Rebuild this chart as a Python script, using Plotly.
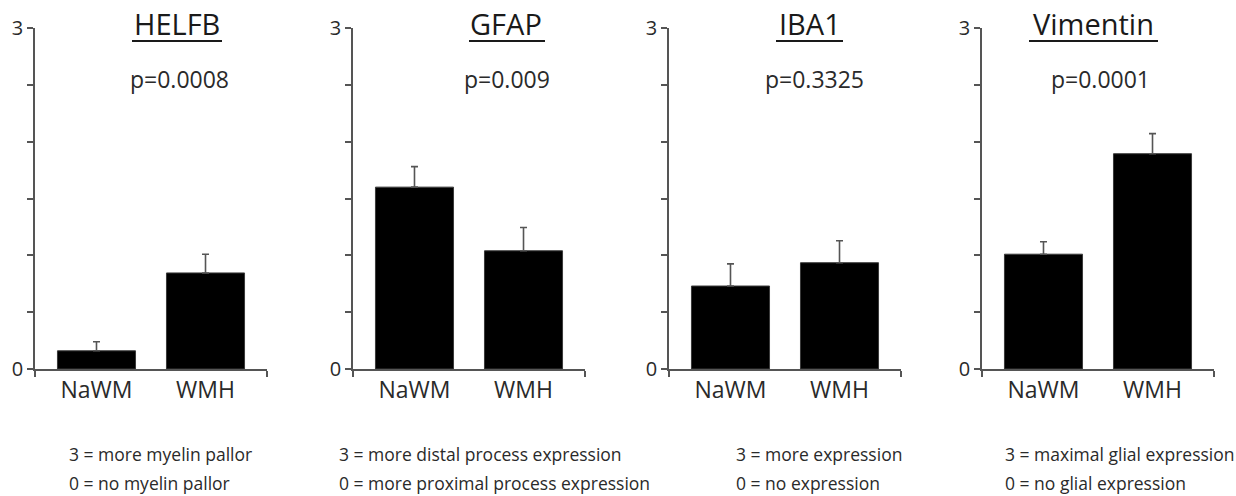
import plotly.graph_objects as go

# ---------------- data ----------------
categories = ["NaWM", "WMH"]
markers = ["HELFB", "GFAP", "IBA1", "Vimentin"]
p_values = ["p=0.0008", "p=0.009", "p=0.3325", "p=0.0001"]

helfb_mean = [0.16, 0.845]
helfb_err = [0.08, 0.165]
gfap_mean = [1.60, 1.04]
gfap_err = [0.18, 0.205]
iba1_mean = [0.73, 0.935]
iba1_err = [0.195, 0.193]
vim_mean = [1.01, 1.894]
vim_err = [0.11, 0.177]

y_tickvals = [0, 0.5, 1, 1.5, 2, 2.5, 3]
y_ticktext = ["0", "", "", "", "", "", "3"]

legend_high = ["3 = more myelin pallor", "3 = more distal process expression",
               "3 = more expression", "3 = maximal glial expression"]
legend_low = ["0 = no myelin pallor", "0 = more proximal process expression",
              "0 = no expression", "0 = no glial expression"]

means = [helfb_mean, gfap_mean, iba1_mean, vim_mean]
errs = [helfb_err, gfap_err, iba1_err, vim_err]

# ---------------- layout geometry ----------------
W, H = 1236, 496
FONT = "Open Sans, Noto Sans, sans-serif"
AX = "#555555"
TXT = "#2a2a2a"

def px(x):
    return x / W

def py(y):
    return (H - y) / H

axis_left = [35, 353, 669, 982]
axis_len = 232
title_cx = [177, 506, 810, 1093]
title_ul = [(132, 222), (469, 545), (776, 843), (1029, 1158)]
p_cx = [179, 507, 814, 1100]
legend_left = [67, 337, 734, 1003]
xr = [-0.564, 1.564]

fig = go.Figure()
annotations = []
shapes = []
xpos = list(range(len(categories)))

for i in range(4):
    sfx = "" if i == 0 else str(i + 1)
    fig.add_trace(go.Bar(
        x=xpos, y=means[i],
        width=0.716,
        marker=dict(color="black", line=dict(color="#3a3a3a", width=1)),
        error_y=dict(type="data", array=errs[i], arrayminus=[0] * len(errs[i]),
                     symmetric=False, color=AX, thickness=1.6, width=3.5),
        xaxis="x" + sfx, yaxis="y" + sfx, showlegend=False, hoverinfo="skip",
    ))
    dom_x = [px(axis_left[i]), px(axis_left[i] + axis_len)]
    fig.layout["xaxis" + sfx] = dict(
        domain=dom_x, range=xr, anchor="y" + sfx, automargin=False,
        tickmode="array", tickvals=xpos, ticktext=categories,
        ticks="", showline=True, linecolor=AX, linewidth=1.5,
        showgrid=False, zeroline=False, fixedrange=True,
        tickfont=dict(family=FONT, size=23, color=TXT),
        minor=dict(tickmode="array", tickvals=[xr[0] + 0.001, xr[1] - 0.001],
                   ticks="outside", ticklen=6, tickwidth=1.5, tickcolor=AX, showgrid=False),
    )
    fig.layout["yaxis" + sfx] = dict(
        domain=[py(369), py(28)], range=[0, 3], anchor="x" + sfx, automargin=False,
        tickmode="array", tickvals=y_tickvals, ticktext=y_ticktext,
        ticks="outside", ticklen=6, tickwidth=1.5, tickcolor=AX,
        showline=True, linecolor=AX, linewidth=1.5,
        showgrid=False, zeroline=False, fixedrange=True,
        tickfont=dict(family=FONT, size=20, color=TXT),
    )
    annotations.append(dict(
        text=markers[i], x=px(title_cx[i]), y=py(23),
        xref="paper", yref="paper", xanchor="center", yanchor="middle",
        showarrow=False, font=dict(family=FONT, size=29, color="#1a1a1a"),
    ))
    shapes.append(dict(
        type="line", xref="paper", yref="paper",
        x0=px(title_ul[i][0]), x1=px(title_ul[i][1]), y0=py(41), y1=py(41),
        line=dict(color="#1a1a1a", width=2),
    ))
    annotations.append(dict(
        text=p_values[i], x=px(p_cx[i]), y=py(79),
        xref="paper", yref="paper", xanchor="center", yanchor="middle",
        showarrow=False, font=dict(family=FONT, size=23, color=TXT),
    ))
    annotations.append(dict(
        text=legend_high[i], x=px(legend_left[i]), y=py(454),
        xref="paper", yref="paper", xanchor="left", yanchor="middle",
        showarrow=False, font=dict(family=FONT, size=17.5, color=TXT),
    ))
    annotations.append(dict(
        text=legend_low[i], x=px(legend_left[i]), y=py(483),
        xref="paper", yref="paper", xanchor="left", yanchor="middle",
        showarrow=False, font=dict(family=FONT, size=17.5, color=TXT),
    ))

fig.update_layout(
    width=W, height=H, autosize=False,
    margin=dict(l=0, r=0, t=0, b=0, pad=0, autoexpand=False),
    paper_bgcolor="white", plot_bgcolor="white",
    annotations=annotations, shapes=shapes,
    bargap=0.284,
)

fig.write_html("out.html", config={"displayModeBar": False})
